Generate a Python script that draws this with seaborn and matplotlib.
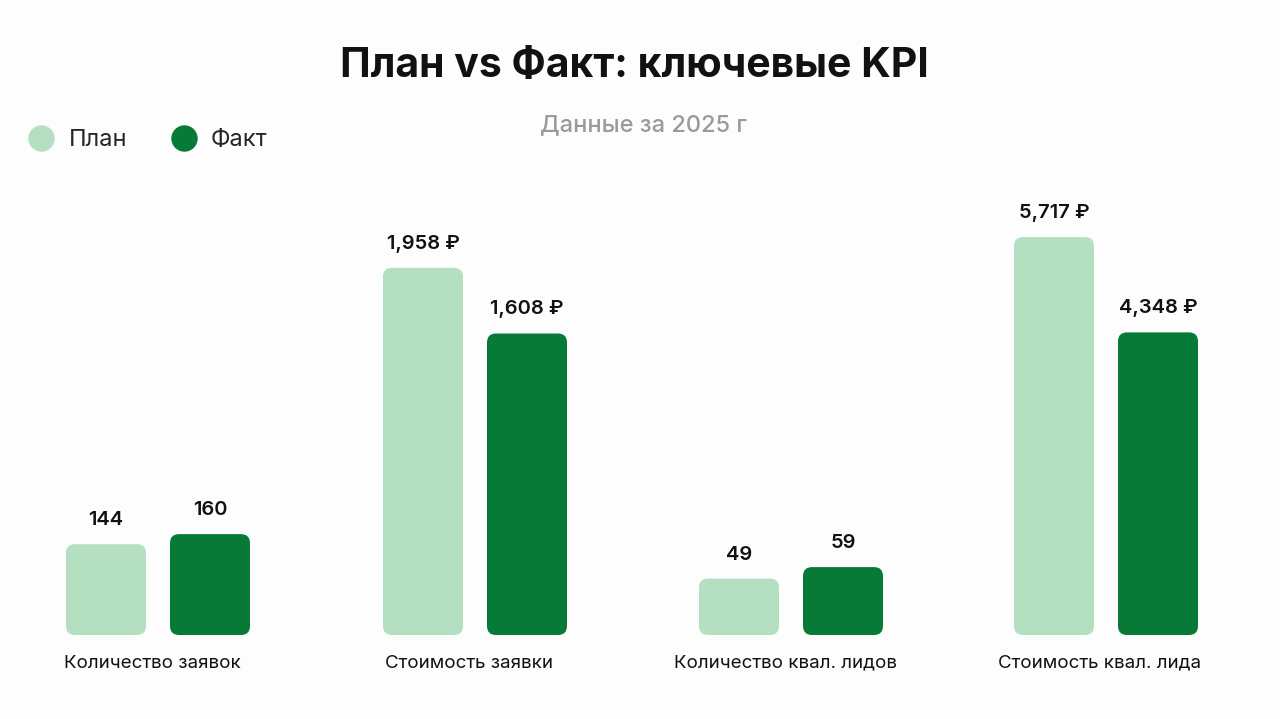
import matplotlib
matplotlib.use("Agg")
import matplotlib.pyplot as plt
from matplotlib.patches import FancyBboxPatch
from matplotlib.lines import Line2D
import seaborn as sns
import pandas as pd

# ---- data ----
metrics = ["Количество заявок", "Стоимость заявки", "Количество квал. лидов", "Стоимость квал. лида"]
plan_values = [144, 1958, 49, 5717]
fact_values = [160, 1608, 59, 4348]
units = ["", " ₽", "", " ₽"]
series = ["План", "Факт"]
title = "План vs Факт: ключевые KPI"
subtitle = "Данные за 2025 г"

# ---- style ----
sns.set_theme(style="white")
FONT = ["Inter", "DejaVu Sans"]
plt.rcParams["font.family"] = FONT

c_plan = "#b4dfc0"
c_fact = "#077a37"
palette = {"План": c_plan, "Факт": c_fact}
bg = "#fdfdfd"

W, H = 1280, 719
fig = plt.figure(figsize=(12.8, 7.19), dpi=100, facecolor=bg)

bar_w_px, step_px = 80, 104
w = bar_w_px / step_px
base_px = 635
top_px = 200
ax_h_px = base_px - top_px
lefts_px = [66, 383, 699, 1014]
ymaxes = [690, 2320, 378, 6250]  # per-panel value scales

for i, m in enumerate(metrics):
    df = pd.DataFrame({"kind": series, "value": [plan_values[i], fact_values[i]]})
    span_px = step_px + bar_w_px
    ax = fig.add_axes([lefts_px[i] / W, (H - base_px) / H, span_px / W, ax_h_px / H])
    ax.set_facecolor("none")
    sns.barplot(data=df, x="kind", y="value", hue="kind", palette=palette,
                width=w, ax=ax, legend=False, order=series, hue_order=series,
                saturation=1)
    ax.set_xlim(-w / 2, 1 + w / 2)
    ax.set_ylim(0, ymaxes[i])
    # rounded bars
    ypp = ymaxes[i] / ax_h_px
    xpp = 1 / step_px
    r_px = 9
    for p in list(ax.patches):
        x0, y0 = p.get_x(), p.get_y()
        bw, bh = p.get_width(), p.get_height()
        fc = p.get_facecolor()
        p.set_visible(False)
        fb = FancyBboxPatch((x0, y0), bw, bh,
                            boxstyle=f"round,pad=0,rounding_size={r_px * xpp}",
                            mutation_aspect=ypp / xpp, facecolor=fc, edgecolor="none")
        ax.add_patch(fb)
    vals = [plan_values[i], fact_values[i]]
    for j, v in enumerate(vals):
        ax.annotate(f"{v:,}{units[i]}", xy=(j, v), xytext=(0, 15 * 0.72),
                    textcoords="offset points", ha="center", va="bottom",
                    fontsize=14.5, fontweight="semibold", color="#111111", family=FONT)
    ax.annotate(m, xy=(0.5, 0), xycoords="axes fraction",
                xytext=(-6 * 0.72, -28 * 0.72), textcoords="offset points",
                ha="center", va="center", fontsize=13.5, color="#111111", family=FONT)
    ax.set_xlabel("")
    ax.set_ylabel("")
    ax.set_xticks([])
    ax.set_yticks([])
    sns.despine(ax=ax, left=True, bottom=True)

fig.text(634 / W, 1 - 66 / H, title, ha="center", va="center",
         fontsize=29.5, fontweight="bold", color="#111111", family=FONT)
fig.text(643 / W, 1 - 125 / H, subtitle, ha="center", va="center",
         fontsize=17, fontweight="medium", color="#9a9a9a", family=FONT)

handles = [Line2D([], [], marker="o", linestyle="none", markersize=19,
                  markerfacecolor=palette[s], markeredgecolor="none") for s in series]
fig.legend(handles, series, loc="center left", bbox_to_anchor=(6 / W, 1 - 140 / H),
           ncol=2, frameon=False, handletextpad=0.55,
           columnspacing=1.8, handlelength=1.2, prop={"family": FONT, "size": 17})

fig.savefig("out.png", dpi=100, facecolor=bg)
